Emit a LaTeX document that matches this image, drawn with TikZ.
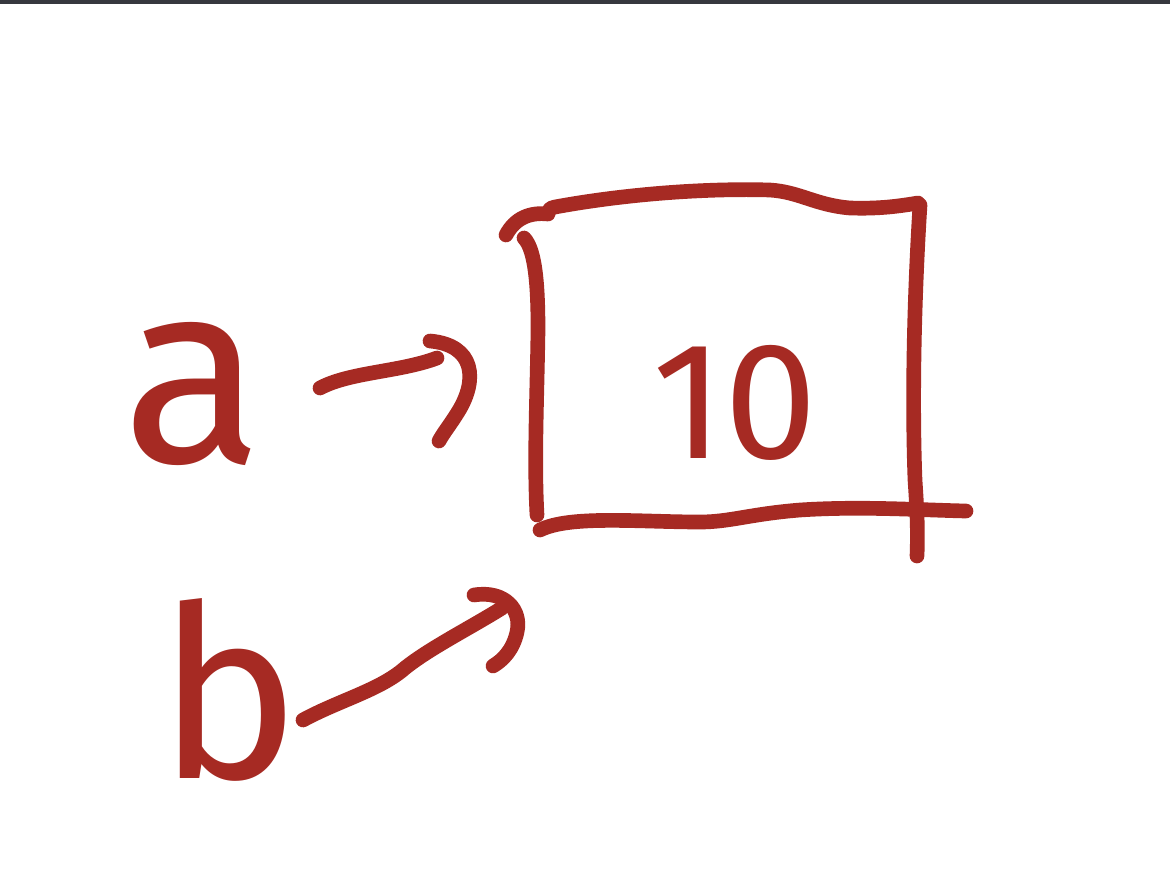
\documentclass[tikz,border=0pt]{standalone}
\usepackage{fontspec}
\setmainfont{Fira Sans}
\definecolor{ink}{HTML}{A62A23}
\definecolor{topbar}{HTML}{36383E}
\begin{document}
\begin{tikzpicture}[x=0.75pt,y=-0.75pt,
  pen/.style={draw=ink,line width=11pt,line cap=round,line join=round},
  hand/.style={text=ink,inner sep=0pt,anchor=base}]
\useasboundingbox (0,0) rectangle (1170,882);
\fill[white] (0,0) rectangle (1170,882);
\fill[topbar] (0,0) rectangle (1170,4);
% texts
\node[hand,font=\fontsize{195}{195}\selectfont] (a) at (193,462) {a};
\node[hand,font=\fontsize{180}{180}\selectfont] (b) at (229,778) {b};
\node[hand,font=\fontsize{125}{125}\selectfont] (ten) at (735,458) {10};
% box
\node[minimum width=285pt,minimum height=240pt,inner sep=0pt] (box) at (727,365) {};
\draw[pen] (506,235) .. controls (515,218) and (530,212) .. (548,214)
  .. controls (549,208) and (552,207) .. (555,207)
  .. controls (620,195) and (700,188) .. (770,190)
  .. controls (800,192) and (815,205) .. (850,208)
  .. controls (880,209) and (900,206) .. (918,203);
\draw[pen] (920,205) .. controls (914,300) and (912,400) .. (915,480)
  .. controls (917,510) and (918,530) .. (917,556);
\draw[pen] (524,238) .. controls (536,250) and (538,290) .. (538,330)
  .. controls (537,400) and (534,460) .. (537,515);
\draw[pen] (540,530) .. controls (570,515) and (640,522) .. (700,522)
  .. controls (730,522) and (750,514) .. (800,510)
  .. controls (860,506) and (920,510) .. (966,511);
% arrow a
\coordinate (a1) at (320,388);
\coordinate (a2) at (437,358);
\coordinate (ah1) at (430,341);
\coordinate (ah2) at (439,441);
\draw[pen] (a1) .. controls (350,372) and (400,372) .. (a2);
\draw[pen] (ah1) .. controls (475,345) and (478,380) .. (458,412)
  .. controls (450,425) and (444,432) .. (ah2);
% arrow b
\coordinate (b1) at (303,720);
\coordinate (b2) at (502,608);
\coordinate (bh1) at (474,595);
\coordinate (bh2) at (493,666);
\draw[pen] (b1) .. controls (340,700) and (380,690) .. (405,668)
  .. controls (430,648) and (470,628) .. (b2);
\draw[pen] (bh1) .. controls (505,590) and (522,610) .. (517,632)
  .. controls (513,650) and (503,660) .. (bh2);
\end{tikzpicture}
\end{document}
